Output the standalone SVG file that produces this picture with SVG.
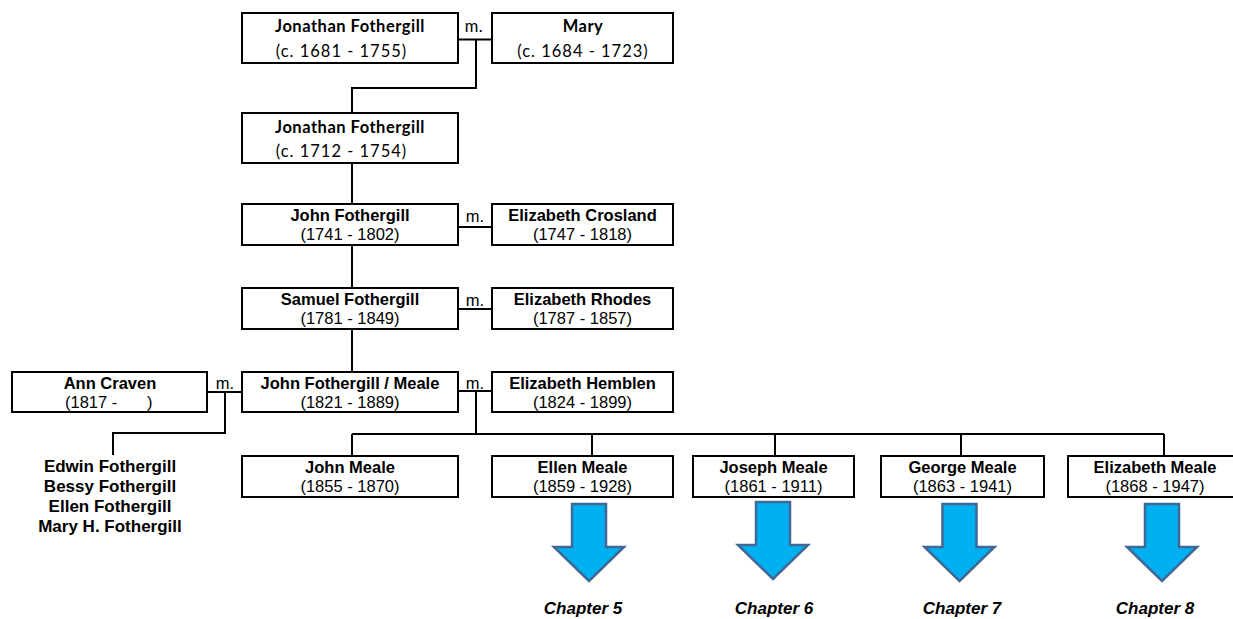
<svg xmlns="http://www.w3.org/2000/svg" width="1233" height="619" viewBox="0 0 1233 619">
<style>
.box{fill:#fff;stroke:#000;stroke-width:2}
.ln{stroke:#000;stroke-width:2;fill:none}
.n{font-family:"Liberation Sans",Arial,sans-serif;font-size:16.5px;font-weight:bold;text-anchor:middle;fill:#000}
.d{font-family:"Liberation Sans",Arial,sans-serif;font-size:16.5px;text-anchor:middle;fill:#000}
.cn{font-family:Lato,"Open Sans",sans-serif;font-size:16.5px;font-weight:bold;letter-spacing:0.5px;text-anchor:middle;fill:#000}
.cd{font-family:Lato,"Open Sans",sans-serif;font-size:16.5px;letter-spacing:1px;text-anchor:middle;fill:#000}
.m{font-family:"Liberation Sans",Arial,sans-serif;font-size:16.5px;text-anchor:middle;fill:#000}
.cm{font-family:Lato,"Open Sans",sans-serif;font-size:16.5px;letter-spacing:0.5px;text-anchor:middle;fill:#000}
.ch{font-family:"Liberation Sans",Arial,sans-serif;font-size:17px;font-weight:bold;font-style:italic;text-anchor:middle;fill:#000}
.kid{font-family:"Liberation Sans",Arial,sans-serif;font-size:17px;font-weight:bold;text-anchor:middle;fill:#000}
.arr{fill:#00B0F0;stroke:#3F6896;stroke-width:2.5;stroke-linejoin:miter}
</style>
<defs>
<polygon id="arrow" class="arr" points="-17,0 17,0 17,43 35,43 0,77 -35,43 -17,43"/>
</defs>
<g id="connectors">
<path class="ln" d="M458,39.5H492M476,39.5V88H352V113"/>
<path class="ln" d="M352,163V204"/>
<path class="ln" d="M458,227H492"/>
<path class="ln" d="M352,245V288"/>
<path class="ln" d="M458,309H492"/>
<path class="ln" d="M352,329V372"/>
<path class="ln" d="M458,391H492M476,391V434"/>
<path class="ln" d="M352,434H1164M352,434V456M592,434V456M775,434V456M961,434V456M1164,434V456"/>
<path class="ln" d="M207,392H242M225,392V433H113V455"/>
</g>
<g id="m-labels">
<text class="cm" x="474" y="32">m.</text>
<text class="m" x="475" y="222">m.</text>
<text class="m" x="475" y="306">m.</text>
<text class="m" x="475" y="389">m.</text>
<text class="m" x="225" y="389">m.</text>
</g>
<g id="jonathan1681">
<rect class="box" x="242" y="13" width="216" height="50"/>
<text class="cn" x="350" y="32">Jonathan Fothergill</text>
<text class="cd" x="341.5" y="57">(c. 1681 - 1755)</text>
</g>
<g id="mary">
<rect class="box" x="492" y="13" width="181" height="50"/>
<text class="cn" x="583" y="32">Mary</text>
<text class="cd" x="583" y="57">(c. 1684 - 1723)</text>
</g>
<g id="jonathan1712">
<rect class="box" x="242" y="113" width="216" height="50"/>
<text class="cn" x="350" y="133">Jonathan Fothergill</text>
<text class="cd" x="341.5" y="157">(c. 1712 - 1754)</text>
</g>
<g id="john1741">
<rect class="box" x="242" y="204" width="216" height="41"/>
<text class="n" x="350" y="221">John Fothergill</text>
<text class="d" x="350" y="240">(1741 - 1802)</text>
</g>
<g id="elizabethCrosland">
<rect class="box" x="492" y="204" width="181" height="41"/>
<text class="n" x="582.5" y="221">Elizabeth Crosland</text>
<text class="d" x="582.5" y="240">(1747 - 1818)</text>
</g>
<g id="samuel">
<rect class="box" x="242" y="288" width="216" height="41"/>
<text class="n" x="350" y="305">Samuel Fothergill</text>
<text class="d" x="350" y="324">(1781 - 1849)</text>
</g>
<g id="elizabethRhodes">
<rect class="box" x="492" y="288" width="181" height="41"/>
<text class="n" x="582.5" y="305">Elizabeth Rhodes</text>
<text class="d" x="582.5" y="324">(1787 - 1857)</text>
</g>
<g id="johnMeale1821">
<rect class="box" x="242" y="372" width="216" height="40"/>
<text class="n" x="350" y="389">John Fothergill / Meale</text>
<text class="d" x="350" y="408">(1821 - 1889)</text>
</g>
<g id="elizabethHemblen">
<rect class="box" x="492" y="372" width="181" height="40"/>
<text class="n" x="582.5" y="389">Elizabeth Hemblen</text>
<text class="d" x="582.5" y="408">(1824 - 1899)</text>
</g>
<g id="annCraven">
<rect class="box" x="12" y="372" width="195" height="40"/>
<text class="n" x="110" y="389">Ann Craven</text>
<text class="d" x="65" y="408" style="text-anchor:start">(1817 -</text>
<text class="d" x="147" y="408" style="text-anchor:start">)</text>
</g>
<g id="annChildren">
<text class="kid" x="110" y="472">Edwin Fothergill</text>
<text class="kid" x="110" y="492">Bessy Fothergill</text>
<text class="kid" x="110" y="512">Ellen Fothergill</text>
<text class="kid" x="110" y="532">Mary H. Fothergill</text>
</g>
<g id="johnMeale1855">
<rect class="box" x="242" y="456" width="216" height="41"/>
<text class="n" x="350" y="473">John Meale</text>
<text class="d" x="350" y="492">(1855 - 1870)</text>
</g>
<g id="ellenMeale">
<rect class="box" x="492" y="456" width="181" height="41"/>
<text class="n" x="582.5" y="473">Ellen Meale</text>
<text class="d" x="582.5" y="492">(1859 - 1928)</text>
</g>
<g id="josephMeale">
<rect class="box" x="693" y="456" width="161" height="41"/>
<text class="n" x="773.5" y="473">Joseph Meale</text>
<text class="d" x="773.5" y="492">(1861 - 1911)</text>
</g>
<g id="georgeMeale">
<rect class="box" x="881" y="456" width="163" height="41"/>
<text class="n" x="962.5" y="473">George Meale</text>
<text class="d" x="962.5" y="492">(1863 - 1941)</text>
</g>
<g id="elizabethMeale">
<rect class="box" x="1068" y="456" width="180" height="41"/>
<text class="n" x="1155" y="473">Elizabeth Meale</text>
<text class="d" x="1155" y="492">(1868 - 1947)</text>
</g>
<g id="chapter5">
<use href="#arrow" x="589" y="504"/>
<text class="ch" x="583" y="614">Chapter 5</text>
</g>
<g id="chapter6">
<use href="#arrow" x="773" y="502"/>
<text class="ch" x="774" y="614">Chapter 6</text>
</g>
<g id="chapter7">
<use href="#arrow" x="959.5" y="504"/>
<text class="ch" x="962" y="614">Chapter 7</text>
</g>
<g id="chapter8">
<use href="#arrow" x="1162" y="504"/>
<text class="ch" x="1155" y="614">Chapter 8</text>
</g>
</svg>
